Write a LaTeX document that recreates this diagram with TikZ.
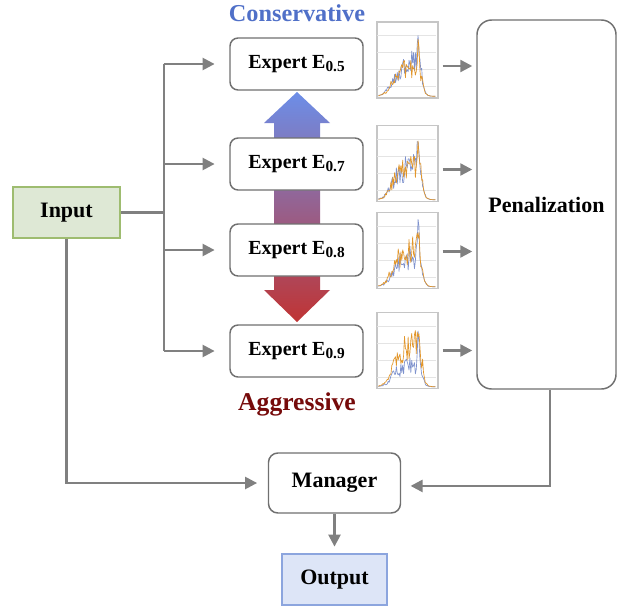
\documentclass[tikz,border=0pt]{standalone}
\usepackage{fontspec}
\setmainfont{Liberation Serif}
\definecolor{linegray}{RGB}{128, 128, 128}
\definecolor{boxgray}{RGB}{112, 112, 112}
\definecolor{inputgreen}{RGB}{222, 232, 213}
\definecolor{inputedge}{RGB}{158, 188, 112}
\definecolor{outputblue}{RGB}{221, 229, 247}
\definecolor{outputedge}{RGB}{140, 165, 222}
\definecolor{consblue}{RGB}{80, 112, 200}
\definecolor{aggred}{RGB}{118, 10, 10}
\definecolor{arrowblue}{RGB}{108, 142, 232}
\definecolor{arrowmid}{RGB}{108, 100, 180}
\definecolor{arrowred}{RGB}{192, 52, 52}
\definecolor{chartblue}{RGB}{125, 145, 205}
\definecolor{chartorange}{RGB}{226, 150, 42}
\definecolor{gridgray}{RGB}{228, 228, 228}
\usetikzlibrary{shapes, arrows.meta, positioning, calc}

\tikzset{
  bigfont/.style={font=\bfseries\fontsize{16.5}{19}\selectfont},
  expertbox/.style={draw=boxgray, line width=1.1pt, fill=white, rounded corners=6pt,
    minimum width=99.75pt, minimum height=39pt, font=\bfseries\fontsize{15}{17}\selectfont},
  chartbox/.style={draw=gridgray!70!gray, line width=1.1pt, fill=white, inner sep=0pt,
    minimum width=45.75pt, minimum height=57pt},
  conn/.style={draw=linegray, line width=1.8pt},
  arr/.style={conn, -{Triangle[length=9pt, width=9pt]}},
}

\newcommand{\esub}[1]{\raisebox{-0.3ex}{\fontsize{11.5}{12}\selectfont #1}}

% the little curve plots of each expert
\newcommand{\chartlines}[4]{%
  \begin{scope}[shift={(#1.south west)}, x=0.75pt, y=0.75pt,
    declare function={env(\t)=1/(1+exp(-(\t-14)/3.5))*1/(1+exp((\t-46)/1.6))*(0.5+0.5*\t/46);}]
    \foreach \g in {12, 29, 46, 63}
      \draw[gridgray, line width=0.5pt] (1, \g) -- (60, \g);
    \pgfmathsetseed{#2}
    \draw[chartblue, line width=0.5pt, line join=round]
      plot[domain=2:59, samples=64]
      (\x, {2.5 + #3*env(\x)*(0.4+0.6*rnd) + 30*exp(-((\x-42)/1.2)^2)});
    \pgfmathsetseed{#2+7}
    \draw[chartorange, line width=0.5pt, line join=round]
      plot[domain=2:59, samples=64]
      (\x, {2.5 + #4*env(\x)*(0.45+0.55*rnd) + 24*exp(-((\x-42)/1.2)^2)});
  \end{scope}
}

\begin{document}
\begin{tikzpicture}[x=0.75pt, y=-0.75pt]
  \useasboundingbox (0,0) rectangle (623,610);

  % shaded double arrow behind the experts
  \shade[top color=arrowblue, middle color=arrowmid, bottom color=arrowred]
    (297,92) -- (330,123) -- (320,123) -- (320,290) -- (330,290) -- (297,322)
    -- (264,290) -- (274,290) -- (274,123) -- (264,123) -- cycle;

  % nodes
  \node[draw=inputedge, fill=inputgreen, line width=1.1pt, minimum width=80.25pt,
    minimum height=38.25pt, bigfont] (input) at (66.5,212.5) {Input};
  \node[expertbox] (e05) at (296.5,64) {Expert E\esub{0.5}};
  \node[expertbox] (e07) at (296.5,164) {Expert E\esub{0.7}};
  \node[expertbox] (e08) at (296.5,250) {Expert E\esub{0.8}};
  \node[expertbox] (e09) at (296.5,351) {Expert E\esub{0.9}};
  \node[text=consblue, font=\bfseries\fontsize{18.2}{20}\selectfont] (cons) at (297,13) {Conservative};
  \node[text=aggred, font=\bfseries\fontsize{19.2}{21}\selectfont] (aggr) at (297,404) {Aggressive};

  \node[chartbox] (c05) at (407.5,60) {};
  \node[chartbox] (c07) at (407.5,163.5) {};
  \node[chartbox] (c08) at (407.5,250.5) {};
  \node[chartbox] (c09) at (407.5,350.5) {};
  \chartlines{c05}{11}{54}{46}
  \chartlines{c07}{23}{54}{52}
  \chartlines{c08}{37}{48}{58}
  \chartlines{c09}{52}{34}{64}

  \node[draw=boxgray, line width=1.1pt, fill=white, rounded corners=11pt,
    minimum width=104.25pt, minimum height=276.75pt, bigfont] (pen) at (546.5,204.5) {Penalization};
  \node[draw=boxgray, line width=1.1pt, fill=white, rounded corners=7pt,
    minimum width=99pt, minimum height=45pt, bigfont] (manager) at (334.5,483) {Manager};
  \node[draw=outputedge, fill=outputblue, line width=1.1pt, minimum width=78.75pt,
    minimum height=38.25pt, bigfont] (output) at (334.5,579.5) {Output};

  % input to the experts
  \draw[conn] (input.east) -- ++(43,0) coordinate (split);
  \draw[conn] (split |- e05) -- (split |- e09);
  \foreach \e in {e05, e07, e08, e09}
    \draw[arr, shorten >=11pt] (split |- \e) -- (\e.west);

  % charts to penalization
  \foreach \c/\dy in {c05/-6, c07/-6, c08/-1, c09/0}
    \draw[arr, shorten <=3pt, shorten >=3pt] ([yshift=\dy*0.75pt]\c.east) -- ([yshift=\dy*0.75pt]\c.east -| pen.west);

  % to the manager and output
  \draw[arr, shorten >=8pt] (input.south) |- (manager.west);
  \draw[arr, shorten >=7pt] ([xshift=2.6pt]pen.south) |- ([yshift=-2.2pt]manager.east);
  \draw[arr, shorten >=5pt] (manager.south) -- (output.north);
\end{tikzpicture}
\end{document}
